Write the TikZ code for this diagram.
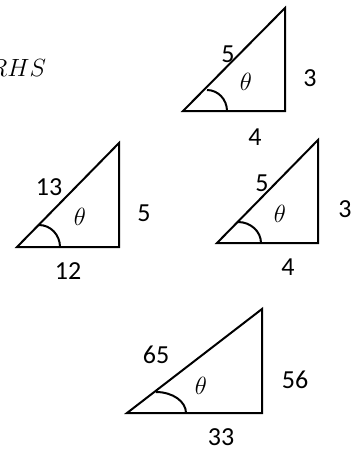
\documentclass[tikz,border=0pt]{standalone}
\usepackage{fontspec}
\setmainfont{Carlito}
\usepackage{tikz}
\usetikzlibrary{calc}

\begin{document}
\begin{tikzpicture}[x=1pt,y=-1pt,line width=2pt,
  side/.style={inner sep=0pt,font=\fontsize{26}{30}\selectfont},
  angl/.style={inner sep=0pt,font=\fontsize{26}{30}\selectfont}]
\useasboundingbox (0,0) rectangle (353,450);
\node[angl,anchor=east] (rhs) at (47,68) {$RHS$};
% 3-4-5, top
\draw (183,111) -- (285,111) -- (285,8) -- cycle;
\draw (227,111) arc[start angle=0,end angle=90,x radius=20pt,y radius=21pt];
\node[side] (hypA) at (228,54) {5};
\node[angl] (thA) at (246,82) {$\theta$};
\node[side] (oppA) at (310,78) {3};
\node[side] (adjA) at (255,137) {4};
% 5-12-13, middle left
\draw (17,247) -- (119,247) -- (119,143) -- cycle;
\draw (60,247) arc[start angle=0,end angle=90,x radius=21pt,y radius=22pt];
\node[side] (hypB) at (49,187) {13};
\node[angl] (thB) at (80,217) {$\theta$};
\node[side] (oppB) at (144,213) {5};
\node[side] (adjB) at (68,271) {12};
% 3-4-5, middle right
\draw (217,243) -- (318,243) -- (318,140) -- cycle;
\draw (261,243) arc[start angle=0,end angle=90,x radius=23pt,y radius=21pt];
\node[side] (hypC) at (262,183) {5};
\node[angl] (thC) at (280,214) {$\theta$};
\node[side] (oppC) at (345,209) {3};
\node[side] (adjC) at (288,267) {4};
% 33-56-65, bottom
\draw (127,413) -- (262,413) -- (262,309) -- cycle;
\draw (186,413) arc[start angle=0,end angle=90,x radius=30pt,y radius=21pt];
\node[side] (hypD) at (156,355) {65};
\node[angl] (thD) at (201,386) {$\theta$};
\node[side] (oppD) at (295,380) {56};
\node[side] (adjD) at (221,437) {33};
\end{tikzpicture}
\end{document}
